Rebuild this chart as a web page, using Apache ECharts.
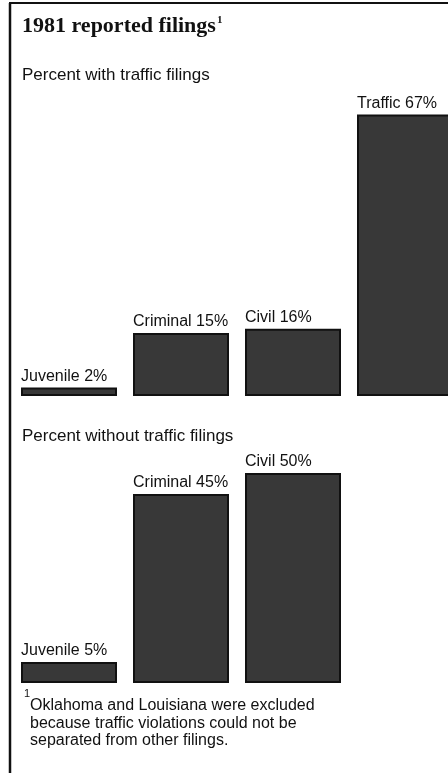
<!DOCTYPE html>
<html>
<head>
<meta charset="utf-8">
<script src="https://cdn.jsdelivr.net/npm/echarts@6/dist/echarts.min.js"></script>
<style>
html,body{margin:0;padding:0;background:#fff;overflow:hidden;width:448px;height:773px;}
#chart{width:464px;height:773px;}
</style>
</head>
<body>
<div id="chart"></div>
<script>
const titleText = '1981 reported filings';
const topHeader = 'Percent with traffic filings';
const bottomHeader = 'Percent without traffic filings';
const topCategories = ['Juvenile', 'Criminal', 'Civil', 'Traffic'];
const topValues = [2, 15, 16, 67];
const bottomCategories = ['Juvenile', 'Criminal', 'Civil'];
const bottomValues = [5, 45, 50];
const footnoteLines = [
  'Oklahoma and Louisiana were excluded',
  'because traffic violations could not be',
  'separated from other filings.'
];

const chart = echarts.init(document.getElementById('chart'), null, {renderer: 'canvas'});
const sans = '"Liberation Sans", Arial, Helvetica, sans-serif';
const serif = '"Liberation Serif", "Times New Roman", serif';

const barStyle = {
  color: '#383838',
  borderColor: '#111',
  borderWidth: 2
};
const labelStyle = {
  show: true,
  position: [0, -3],
  align: 'left',
  verticalAlign: 'bottom',
  fontFamily: sans,
  fontSize: 16,
  color: '#111',
  formatter: p => p.name + ' ' + p.value + '%'
};

chart.setOption({
  animation: false,
  backgroundColor: '#fff',
  grid: [
    {left: 13, top: 102, width: 448, height: 294},
    {left: 13, top: 389, width: 336, height: 294}
  ],
  xAxis: [
    {type: 'category', gridIndex: 0, data: topCategories, show: false},
    {type: 'category', gridIndex: 1, data: bottomCategories, show: false}
  ],
  yAxis: [
    {type: 'value', gridIndex: 0, min: 0, max: 70, show: false},
    {type: 'value', gridIndex: 1, min: 0, max: 70, show: false}
  ],
  series: [
    {
      type: 'bar', xAxisIndex: 0, yAxisIndex: 0, data: topValues,
      barWidth: 96, itemStyle: barStyle, label: labelStyle
    },
    {
      type: 'bar', xAxisIndex: 1, yAxisIndex: 1, data: bottomValues,
      barWidth: 96, itemStyle: barStyle, label: labelStyle
    }
  ],
  graphic: [
    {type: 'line', shape: {x1: 10, y1: 3, x2: 10, y2: 773}, style: {stroke: '#111', lineWidth: 2.5}},
    {type: 'line', shape: {x1: 9, y1: 3, x2: 464, y2: 3}, style: {stroke: '#111', lineWidth: 2}},
    {
      type: 'text', left: 22, top: 13,
      style: {
        text: '{t|' + titleText + '}{s|1}',
        rich: {
          t: {fontFamily: serif, fontWeight: 'bold', fontSize: 22, lineHeight: 24, fill: '#111', verticalAlign: 'bottom'},
          s: {fontFamily: serif, fontWeight: 'bold', fontSize: 11, lineHeight: 24, fill: '#111', verticalAlign: 'top', padding: [2, 0, 0, 1]}
        }
      }
    },
    {
      type: 'text', left: 22, top: 67,
      style: {text: topHeader, fontFamily: sans, fontSize: 17, fill: '#111'}
    },
    {
      type: 'text', left: 22, top: 428,
      style: {text: bottomHeader, fontFamily: sans, fontSize: 17, fill: '#111'}
    },
    {
      type: 'text', left: 24, top: 688,
      style: {text: '1', fontFamily: sans, fontSize: 11, fill: '#111'}
    },
    {
      type: 'text', left: 30, top: 697,
      style: {text: footnoteLines.join('\n'), fontFamily: sans, fontSize: 16, lineHeight: 17.5, fill: '#111'}
    }
  ]
});
</script>
</body>
</html>
